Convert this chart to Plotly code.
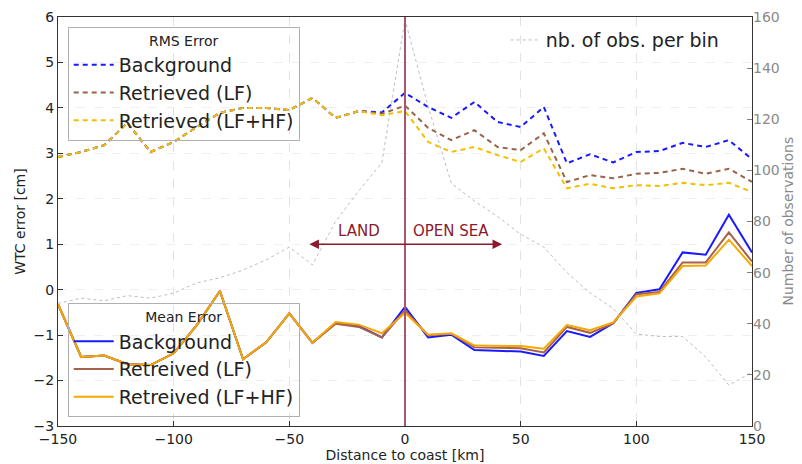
import plotly.graph_objects as go

distance = list(range(-150, 151, 10))

rms_background = [2.92, 3.03, 3.18, 3.67, 3.03, 3.25, 3.58, 3.89, 4.0, 4.0, 3.95, 4.22, 3.78, 3.93, 3.9,
                  4.33, 4.02, 3.78, 4.13, 3.69, 3.58, 4.02, 2.78, 2.98, 2.8, 3.03, 3.05, 3.23, 3.14, 3.29, 2.87]
rms_lf = [2.92, 3.03, 3.18, 3.67, 3.03, 3.25, 3.58, 3.89, 4.0, 4.0, 3.95, 4.22, 3.78, 3.93, 3.87,
          4.05, 3.56, 3.29, 3.51, 3.14, 3.07, 3.44, 2.37, 2.52, 2.45, 2.55, 2.57, 2.66, 2.55, 2.66, 2.37]
rms_lfhf = [2.92, 3.03, 3.18, 3.67, 3.03, 3.25, 3.58, 3.89, 4.0, 4.0, 3.95, 4.22, 3.78, 3.93, 3.84,
            3.93, 3.25, 3.03, 3.14, 2.96, 2.81, 3.11, 2.23, 2.33, 2.23, 2.3, 2.28, 2.35, 2.3, 2.35, 2.15]

mean_background = [-0.32, -1.48, -1.45, -1.64, -1.66, -1.4, -0.78, -0.03, -1.53, -1.16, -0.52, -1.17, -0.74, -0.8, -1.05,
                   -0.38, -1.05, -0.99, -1.33, -1.35, -1.36, -1.46, -0.91, -1.04, -0.74, -0.07, 0.01, 0.82, 0.77, 1.65, 0.82]
mean_lf = [-0.32, -1.48, -1.45, -1.64, -1.66, -1.4, -0.78, -0.03, -1.53, -1.16, -0.52, -1.17, -0.75, -0.82, -1.05,
           -0.46, -1.0, -0.97, -1.27, -1.28, -1.29, -1.38, -0.82, -0.95, -0.74, -0.1, -0.05, 0.6, 0.6, 1.26, 0.62]
mean_lfhf = [-0.32, -1.48, -1.45, -1.64, -1.66, -1.4, -0.78, -0.03, -1.53, -1.16, -0.52, -1.17, -0.71, -0.77, -0.96,
             -0.51, -0.99, -0.96, -1.23, -1.23, -1.24, -1.3, -0.78, -0.89, -0.72, -0.15, -0.08, 0.52, 0.53, 1.1, 0.52]

obs_per_bin = [48, 50, 49, 51, 50, 52, 56, 58, 61, 65, 70, 63, 80, 92, 103,
               159, 125, 95, 88, 82, 75, 70, 60, 52, 46, 36, 35, 35, 27, 16, 21]

x_ticks = [-150, -100, -50, 0, 50, 100, 150]
left_ticks = [-3, -2, -1, 0, 1, 2, 3, 4, 5, 6]
right_ticks = [0, 20, 40, 60, 80, 100, 120, 140, 160]

C_BG = "#1a1aff"
C_LF = "#a8624a"
C_HF = "#f7a800"
C_LF_D = "#9a6248"
C_HF_D = "#f2c000"
MAROON = "#8b1a2e"
GRAY = "#8a8a8a"
FONT = "DejaVu Sans"

fig = go.Figure()

fig.add_trace(go.Scatter(x=distance, y=obs_per_bin, yaxis="y2", mode="lines",
                         line=dict(color="#bdbdbd", width=1, dash="dot"),
                         name="nb. of obs. per bin", legend="legend3"))

for i, (vals, col, name) in enumerate([(rms_background, C_BG, "Background"),
                                       (rms_lf, C_LF_D, "Retrieved (LF)"),
                                       (rms_lfhf, C_HF_D, "Retrieved (LF+HF)")]):
    fig.add_trace(go.Scatter(x=distance, y=vals, mode="lines",
                             line=dict(color=col, width=2, dash="5px,4px"),
                             name=name, legend="legend", legendgroup="r%d" % i))

for i, (vals, col, name) in enumerate([(mean_background, C_BG, "Background"),
                                       (mean_lf, C_LF, "Retreived (LF)"),
                                       (mean_lfhf, C_HF, "Retreived (LF+HF)")]):
    fig.add_trace(go.Scatter(x=distance, y=vals, mode="lines",
                             line=dict(color=col, width=2),
                             name=name, legend="legend2", legendgroup="m%d" % i))

fig.add_shape(type="line", xref="x", yref="y", x0=0, x1=0, y0=-3, y1=6,
              line=dict(color="#a8566e", width=2))

fig.add_annotation(x=42, y=1, ax=-42, ay=1, xref="x", yref="y", axref="x", ayref="y",
                   text="", showarrow=True, arrowhead=2, arrowside="end+start",
                   arrowsize=1.2, arrowwidth=1.6, arrowcolor=MAROON)
fig.add_annotation(x=-20, y=1.05, xref="x", yref="y", text="LAND", showarrow=False,
                   yanchor="bottom", font=dict(family=FONT, size=15, color=MAROON))
fig.add_annotation(x=20, y=1.05, xref="x", yref="y", text="OPEN SEA", showarrow=False,
                   yanchor="bottom", font=dict(family=FONT, size=15, color=MAROON))

# right axis title placed beside the tick labels
fig.add_annotation(x=1.0, xref="paper", xshift=45, y=0.5, yref="paper",
                   text="Number of observations", textangle=-90, showarrow=False,
                   font=dict(family=FONT, size=14, color=GRAY))

axis_common = dict(showline=True, linecolor="#333333", linewidth=1.2, ticks="inside",
                   ticklen=5, tickcolor="#333333", zeroline=False, automargin=False)

legend_common = dict(bgcolor="rgba(255,255,255,0)", bordercolor="#b0b0b0", borderwidth=1,
                     font=dict(size=19, color="#222222"), itemwidth=40, tracegroupgap=0)

# the page body keeps an 8px margin, so the figure is sized to the visible area
fig.update_layout(
    width=794, height=456,
    margin=dict(l=50, r=50, t=9, b=38),
    paper_bgcolor="white", plot_bgcolor="white",
    font=dict(family=FONT, size=14, color="#222222"),
    xaxis=dict(range=[-150, 150], tickvals=x_ticks, mirror=True,
               showgrid=True, gridcolor="#e2e2e2", griddash="dash", gridwidth=1,
               title=dict(text="Distance to coast [km]", standoff=2, font=dict(size=14)),
               tickfont=dict(size=14), **axis_common),
    yaxis=dict(range=[-3, 6], tickvals=left_ticks, mirror=True,
               showgrid=True, gridcolor="#efefef", griddash="dash", gridwidth=1,
               title=dict(text="WTC error [cm]", standoff=4, font=dict(size=14)),
               tickfont=dict(size=14), **axis_common),
    yaxis2=dict(range=[0, 160], tickvals=right_ticks, overlaying="y", side="right",
                showgrid=False, showline=False, ticks="inside", ticklen=5, tickcolor="#808080",
                zeroline=False, automargin=False,
                tickfont=dict(size=14, color=GRAY)),
    legend=dict(x=0.014, y=0.976, xanchor="left", yanchor="top",
                title=dict(text="RMS Error", side="top center", font=dict(size=14)),
                **legend_common),
    legend2=dict(x=0.014, y=0.30, xanchor="left", yanchor="top",
                 title=dict(text="Mean Error", side="top center", font=dict(size=14)),
                 **legend_common),
    legend3=dict(x=0.645, y=0.99, xanchor="left", yanchor="top",
                 bgcolor="rgba(255,255,255,0)", borderwidth=0,
                 font=dict(size=19, color="#222222"), itemwidth=30),
)

fig.write_html("out.html")
